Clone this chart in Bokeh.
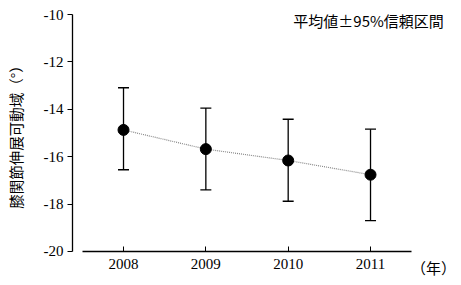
import math
from bokeh.plotting import figure
from bokeh.models import ColumnDataSource, Whisker, TeeHead, FixedTicker, Label, Range1d, PrintfTickFormatter
from bokeh.embed import file_html
from bokeh.resources import INLINE

years = [2008, 2009, 2010, 2011]
means = [-14.87, -15.68, -16.16, -16.76]
upper = [-13.09, -13.95, -14.42, -14.84]
lower = [-16.55, -17.40, -17.88, -18.70]
y_ticks = [-20, -18, -16, -14, -12, -10]

src = ColumnDataSource(dict(x=years, y=means, upper=upper, lower=lower))

p = figure(width=461, height=285, output_backend="svg", toolbar_location=None,
           x_range=Range1d(2006.506, 2012.105), y_range=Range1d(-21.435, -9.409),
           min_border_left=0, min_border_right=0, min_border_top=0, min_border_bottom=0)
p.outline_line_color = None
p.xgrid.visible = False
p.ygrid.visible = False
p.background_fill_color = "white"

serif = "Liberation Serif"
cjk = "Noto Sans CJK JP"

p.xaxis.fixed_location = -20
p.xaxis.ticker = FixedTicker(ticks=years)
p.xaxis.bounds = (2007.5, 2011.5)
p.xaxis.major_tick_in = 5
p.xaxis.major_tick_out = 0
p.xaxis.minor_tick_line_color = None
p.xaxis.major_label_standoff = 8
p.xaxis.major_label_text_font = serif
p.xaxis.major_label_text_font_size = "15px"
p.xaxis.major_label_text_color = "black"
p.xaxis.axis_line_color = "black"
p.xaxis.axis_line_width = 1.3

p.yaxis.fixed_location = 2007.3805
p.yaxis.ticker = FixedTicker(ticks=y_ticks)
p.yaxis.bounds = (-20, -10)
p.yaxis.formatter = PrintfTickFormatter(format="%d")
p.yaxis.major_tick_in = 0
p.yaxis.major_tick_out = 5
p.yaxis.minor_tick_line_color = None
p.yaxis.major_label_standoff = 4
p.yaxis.major_label_text_font = serif
p.yaxis.major_label_text_font_size = "15px"
p.yaxis.major_label_text_color = "black"
p.yaxis.axis_line_color = "black"
p.yaxis.axis_line_width = 1.3

p.line("x", "y", source=src, line_color="#888888", line_dash="1 1", line_width=1.2)

head_u = TeeHead(size=11, line_color="black", line_width=1.3)
head_l = TeeHead(size=11, line_color="black", line_width=1.3)
w = Whisker(base="x", upper="upper", lower="lower", source=src,
            upper_head=head_u, lower_head=head_l, line_color="black", line_width=1.3)
p.add_layout(w)

p.scatter("x", "y", source=src, size=11, fill_color="black", line_color="black")

p.add_layout(Label(x=2006.694, y=-15.02, text="膝関節伸展可動域（°）", angle=math.pi / 2,
                   text_align="center", text_baseline="middle", text_font=cjk,
                   text_font_size="14.5px", text_color="black"))
p.add_layout(Label(x=2011.89, y=-10.25, text="平均値±95%信頼区間", text_align="right",
                   text_baseline="middle", text_font=cjk, text_font_size="15px", text_color="black"))
p.add_layout(Label(x=2011.765, y=-20.67, text="（年）", text_align="center",
                   text_baseline="middle", text_font=cjk, text_font_size="15px", text_color="black"))

open("out.html", "w").write(file_html(p, INLINE))
